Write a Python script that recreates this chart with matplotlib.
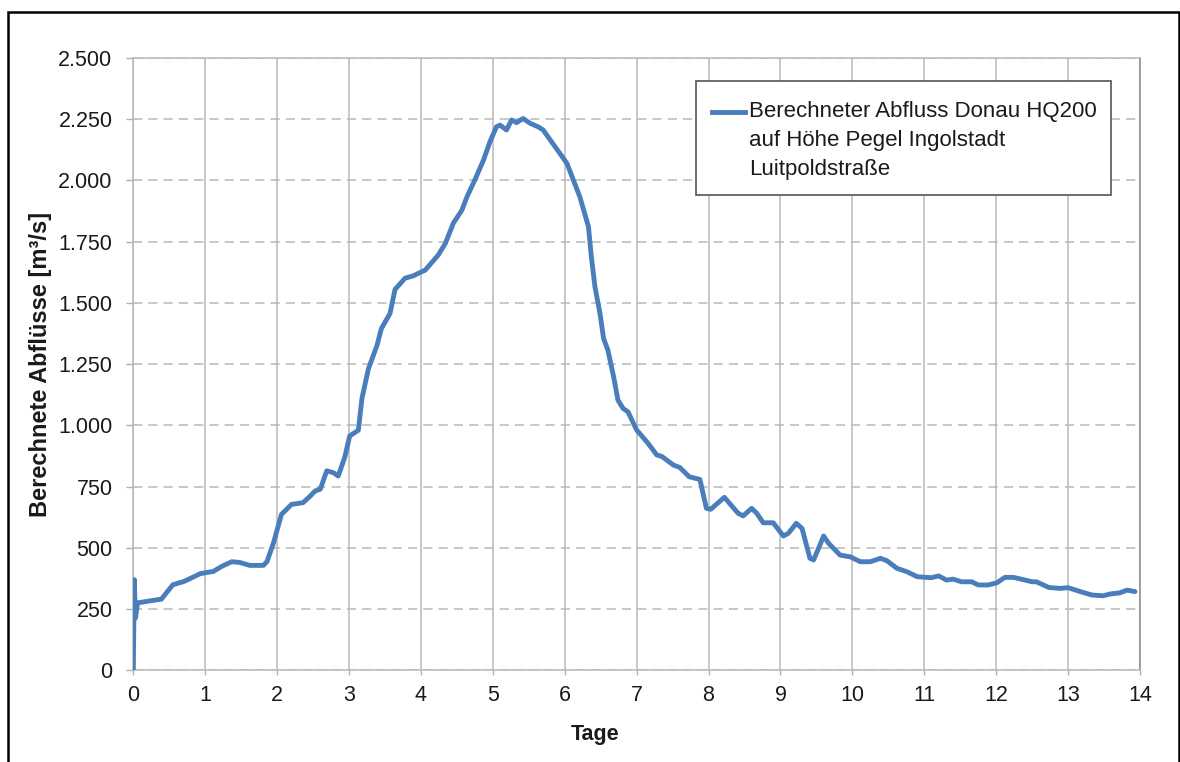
import matplotlib
matplotlib.use("Agg")
import matplotlib.pyplot as plt
from matplotlib.ticker import FuncFormatter, MultipleLocator
from matplotlib.patches import Rectangle
from matplotlib.lines import Line2D

plt.rcParams['font.family'] = ['Liberation Sans', 'DejaVu Sans']

# Berechneter Abfluss der Donau (HQ200) am Pegel Ingolstadt Luitpoldstraße
tage = [0.0, 0.014, 0.03, 0.06, 0.23, 0.39, 0.55, 0.70, 0.81, 0.93, 1.02, 1.11,
        1.23, 1.37, 1.48, 1.62, 1.81, 1.86, 1.95, 2.06, 2.20, 2.36, 2.46, 2.53,
        2.60, 2.69, 2.78, 2.85, 2.94, 3.01, 3.13, 3.18, 3.27, 3.39, 3.45, 3.57,
        3.64, 3.78, 3.89, 4.06, 4.24, 4.34, 4.45, 4.57, 4.64, 4.75, 4.87, 4.96,
        5.05, 5.10, 5.19, 5.26, 5.33, 5.42, 5.52, 5.63, 5.70, 5.80, 5.93, 6.03,
        6.12, 6.21, 6.33, 6.37, 6.42, 6.49, 6.54, 6.60, 6.68, 6.74, 6.81, 6.88,
        7.00, 7.16, 7.28, 7.35, 7.51, 7.60, 7.73, 7.88, 7.97, 8.03, 8.22, 8.41,
        8.48, 8.60, 8.67, 8.76, 8.90, 9.04, 9.11, 9.22, 9.30, 9.41, 9.46, 9.53,
        9.60, 9.67, 9.83, 9.97, 10.11, 10.25, 10.39, 10.48, 10.62, 10.76, 10.90,
        11.03, 11.10, 11.20, 11.31, 11.40, 11.52, 11.66, 11.75, 11.89, 12.01,
        12.12, 12.24, 12.36, 12.50, 12.56, 12.73, 12.89, 13.00, 13.17, 13.33,
        13.49, 13.58, 13.72, 13.82, 13.93]
abfluss = [0, 370, 213, 275, 283, 290, 349, 362, 377, 394, 399, 403,
           424, 443, 440, 428, 428, 444, 520, 636, 677, 684, 711, 732,
           739, 814, 807, 793, 869, 957, 980, 1110, 1231, 1327, 1395, 1457,
           1555, 1601, 1610, 1634, 1695, 1743, 1825, 1879, 1933, 2002, 2083, 2158,
           2219, 2226, 2206, 2247, 2236, 2253, 2233, 2219, 2206, 2165, 2111, 2070,
           2002, 1933, 1811, 1688, 1566, 1457, 1355, 1307, 1198, 1103, 1069, 1055,
           981, 926, 879, 873, 838, 828, 790, 779, 661, 657, 706, 641,
           630, 661, 641, 602, 602, 548, 559, 600, 579, 457, 450, 498,
           548, 518, 470, 463, 443, 443, 457, 447, 416, 402, 382,
           379, 378, 385, 368, 372, 361, 361, 348, 348, 357,
           379, 379, 371, 361, 361, 338, 334, 337, 321, 307,
           304, 311, 316, 327, 321]

legend_lines = ["Berechneter Abfluss Donau HQ200",
                "auf Höhe Pegel Ingolstadt",
                "Luitpoldstraße"]
x_label = "Tage"
y_label = "Berechnete Abflüsse [m³/s]"

W, H = 1180, 762
fig = plt.figure(figsize=(W / 100, H / 100), dpi=100)
fig.patch.set_facecolor('white')

ax_left, ax_right, ax_top, ax_bottom = 133.3, 1140, 58, 670.2
ax = fig.add_axes([ax_left / W, 1 - ax_bottom / H,
                   (ax_right - ax_left) / W, (ax_bottom - ax_top) / H])

line_color = '#4A7EBB'
ax.plot(tage, abfluss, color=line_color, lw=3.5, solid_joinstyle='round',
        solid_capstyle='round', zorder=3)

ax.set_xlim(0, 14)
ax.set_ylim(0, 2500)
ax.xaxis.set_major_locator(MultipleLocator(1))
ax.yaxis.set_major_locator(MultipleLocator(250))
ax.yaxis.set_major_formatter(FuncFormatter(lambda v, p: f"{int(round(v)):,}".replace(",", ".")))

# Gitter: senkrecht durchgezogen, waagrecht gestrichelt
ax.grid(axis='x', color='#b8b8b8', lw=1.1, ls='-', zorder=0)
ax.grid(axis='y', color='#b8b8b8', lw=1.1, ls=(0, (6, 4)), zorder=0)
ax.set_axisbelow(True)

for side in ['left', 'bottom', 'top']:
    ax.spines[side].set_color('#b8b8b8')
    ax.spines[side].set_linewidth(1.1)
ax.spines['right'].set_color('#8a8a8a')
ax.spines['right'].set_linewidth(1.1)

ax.tick_params(axis='y', direction='out', length=5, width=1.0, color='#b0b0b0',
               labelsize=15.5, labelcolor='#1a1a1a', pad=10)
ax.tick_params(axis='x', direction='out', length=3.5, width=1.0, color='#b0b0b0',
               labelsize=15.5, labelcolor='#1a1a1a', pad=7)

ax.set_xlabel(x_label, fontsize=15.5, fontweight='bold', color='#1a1a1a')
ax.set_ylabel(y_label, fontsize=17, fontweight='bold', color='#1a1a1a')
ax.xaxis.set_label_coords((595 - ax_left) / (ax_right - ax_left),
                          -(724 - ax_bottom) / (ax_bottom - ax_top))
ax.yaxis.set_label_coords((52 - ax_left) / (ax_right - ax_left), 0.5)

# Legende
lx0, ly0, lx1, ly1 = 696, 81, 1111, 195
fig.patches.append(Rectangle((lx0 / W, 1 - ly1 / H), (lx1 - lx0) / W, (ly1 - ly0) / H,
                             transform=fig.transFigure, facecolor='white',
                             edgecolor='#555555', lw=1.2, zorder=5))
fig.lines.append(Line2D([712 / W, 745 / W], [1 - 112 / H, 1 - 112 / H],
                        transform=fig.transFigure, color=line_color, lw=3.5,
                        zorder=6))
for i, txt in enumerate(legend_lines):
    fig.text(749 / W, 1 - (112 + 28.5 * i) / H, txt, fontsize=16,
             color='#1a1a1a', va='center', ha='left', zorder=6)

# Rahmen um die Abbildung
fig.patches.append(Rectangle((8 / W, -0.05), (1179 - 8) / W, (1 - 12 / H) + 0.05,
                             transform=fig.transFigure, fill=False,
                             edgecolor='black', lw=1.8, zorder=10))

fig.savefig("out.png", dpi=100)
